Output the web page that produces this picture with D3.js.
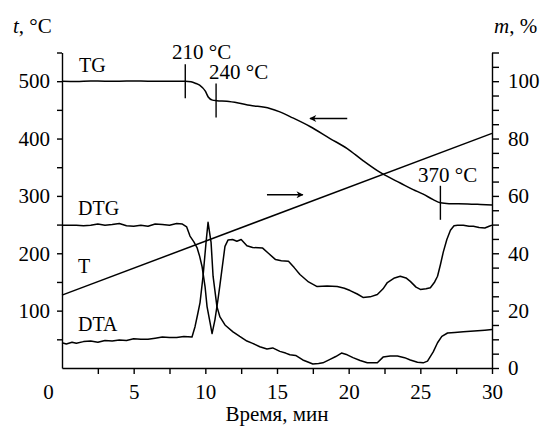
<!DOCTYPE html>
<html>
<head>
<meta charset="utf-8">
<script src="https://cdn.jsdelivr.net/npm/d3@7"></script>
<style>
body { margin: 0; background: #fff; }
.axis path, .axis line { stroke: #000; stroke-width: 1.4; }
.axis text { fill: #000; font-size: 21px; }
.curve { fill: none; stroke: #000; stroke-width: 1.5; stroke-linejoin: round; }
</style>
</head>
<body>
<svg width="547" height="426"></svg>
<script>
// TG, mass % (right axis)
var tgTime = [0, 1, 2, 3, 4, 5, 6, 7, 8, 8.6, 9.0, 9.3, 9.6, 10.0, 10.2, 10.5, 10.8, 11.5, 12.3, 13.1,
    14.5, 15.2, 16.1, 17.3, 18.7, 19.9, 21, 22, 22.5, 23.6, 24.5, 25.2, 25.9, 26.4, 27, 28.3, 29.2, 30];
var tgMass = [100, 99.9, 100.1, 100, 100, 100.1, 100, 100, 100, 100, 99.8, 99.3, 98.6, 96.5, 94.5, 93.4, 93.2, 93, 92.4, 91.6,
    90.5, 89.3, 87.2, 84.2, 80, 76.5, 72.3, 68.8, 67.3, 64.5, 62.2, 60.6, 58.7, 57.6, 57.3, 57.2, 57, 56.8];

// T, furnace temperature (left axis)
var tempTime = [0, 30];
var tempValue = [127, 409];

// DTG signal (drawn on left scale)
var dtgTime = [0, 0.5, 1, 1.5, 2, 2.5, 3, 3.5, 4, 4.5, 5, 5.5, 6, 6.5, 7, 7.5, 8, 8.4, 8.7, 8.93,
    9.2, 9.42, 9.6, 9.77, 9.98, 10.12, 10.33, 10.47, 10.67, 10.88, 11.02, 11.16, 11.37, 11.58, 11.9, 12.2, 12.5, 12.9, 13.3, 14.0,
    14.4, 14.9, 15.3, 15.8, 16.2, 16.6, 17.2, 17.8, 18.5, 19.2, 19.7, 20.1, 20.6, 21.0, 21.5, 22.0, 22.4, 22.7, 23.2, 23.6,
    24.0, 24.3, 24.7, 25.0, 25.4, 25.7, 26.0, 26.2, 26.4, 26.6, 26.85, 27.1, 27.35, 27.6, 28.0, 28.4, 28.7, 29.1, 29.5, 29.8, 30];
var dtgValue = [249, 249, 249, 248, 249, 251, 249, 250, 252, 248, 247, 249, 247, 251, 250, 249, 252, 251, 246, 230,
    220, 210, 195, 177, 142, 107, 79, 60, 84, 119, 145, 172, 212, 223, 224, 221, 224, 213, 210, 209,
    200, 189, 187, 186, 175, 163, 150, 142, 143, 142, 139, 135, 129, 123, 124, 128, 138, 149, 157, 160,
    157, 151, 141, 137, 138, 140, 150, 160, 180, 202, 224, 240, 248, 249, 249, 247, 247, 245, 244, 247, 249];

// DTA signal (drawn on left scale)
var dtaTime = [0, 0.3, 0.7, 1, 1.5, 2, 2.5, 3, 3.5, 4, 4.5, 5, 5.5, 6, 6.5, 7, 7.5, 8, 8.5, 9.07,
    9.28, 9.45, 9.63, 9.84, 10.05, 10.19, 10.4, 10.54, 10.81, 11.02, 11.37, 11.93, 12.4, 12.9, 13.3, 13.8, 14.3, 14.7, 15.2, 15.6,
    15.9, 16.3, 16.8, 17.2, 17.5, 17.9, 18.2, 18.7, 19.1, 19.5, 19.9, 20.3, 20.8, 21.3, 22.0, 22.4, 22.9, 23.4, 23.9, 24.3,
    24.8, 25.2, 25.5, 25.9, 26.2, 26.5, 26.9, 27.4, 28.0, 28.5, 29.0, 29.5, 30];
var dtaValue = [44, 42, 45, 43, 46, 47, 45, 48, 47, 49, 48, 51, 50, 50, 52, 54, 53, 53, 55, 54,
    72, 92, 114, 160, 219, 254, 219, 160, 107, 89, 75, 63, 55, 47, 43, 37, 33, 35, 29, 26,
    23, 22, 14, 10, 7, 8, 9, 15, 20, 26, 23, 18, 13, 9, 9, 19, 21, 21, 18, 14,
    10, 9, 12, 28, 44, 55, 61, 62, 63, 64, 65, 66, 67];

var xTickValues = d3.range(0, 30.01, 2.5);
var leftTickValues = d3.range(50, 551, 50);
var rightTickValues = d3.range(0, 111, 5);

// marked temperatures on TG
var markTime = [8.6, 10.75, 26.4];
var markLabel = ["210 °C", "240 °C", "370 °C"];

var serif = "'Liberation Serif', 'DejaVu Serif', 'Times New Roman', Times, serif";

var svg = d3.select("svg");

var x = d3.scaleLinear().domain([0, 30]).range([62, 492]);
var yT = d3.scaleLinear().domain([0, 550]).range([368, 52.5]);
var yM = d3.scaleLinear().domain([0, 110]).range([368, 52.5]);

function zip(a, b) { return a.map(function (d, i) { return [d, b[i]]; }); }

var lineT = d3.line().x(function (d) { return x(d[0]); }).y(function (d) { return yT(d[1]); });
var lineM = d3.line().x(function (d) { return x(d[0]); }).y(function (d) { return yM(d[1]); })
    .curve(d3.curveMonotoneX);

// axes
var gx = svg.append("g").attr("class", "axis")
    .attr("transform", "translate(0,368)")
    .call(d3.axisBottom(x).tickValues(xTickValues).tickSize(6).tickSizeOuter(0).tickPadding(10)
        .tickFormat(function (d) { return d % 5 === 0 ? d : ""; }));
gx.selectAll(".tick").filter(function (d) { return d === 0; }).select("text").attr("dx", -14);
gx.selectAll(".tick").filter(function (d) { return d === 0; }).select("line").remove();

svg.append("g").attr("class", "axis")
    .attr("transform", "translate(62,0)")
    .call(d3.axisLeft(yT).tickValues(leftTickValues).tickSize(5).tickSizeOuter(0).tickPadding(7)
        .tickFormat(function (d) { return d % 100 === 0 ? d : ""; }));

svg.append("g").attr("class", "axis")
    .attr("transform", "translate(492,0)")
    .call(d3.axisRight(yM).tickValues(rightTickValues).tickSize(7).tickSizeOuter(0).tickPadding(9)
        .tickFormat(function (d) { return d % 20 === 0 ? d : ""; }));

// axis titles
var tl = svg.append("text").attr("x", 13).attr("y", 33).attr("font-size", 21);
tl.append("tspan").attr("font-style", "italic").text("t");
tl.append("tspan").text(", °C");
var tr = svg.append("text").attr("x", 494).attr("y", 33).attr("font-size", 21);
tr.append("tspan").attr("font-style", "italic").text("m");
tr.append("tspan").text(", %");
svg.append("text").attr("x", 277).attr("y", 421).attr("text-anchor", "middle")
    .attr("font-size", 21).text("Время, мин");

// curves
svg.append("path").attr("class", "curve").attr("d", lineM(zip(tgTime, tgMass)));
svg.append("path").attr("class", "curve").attr("d", lineT(zip(tempTime, tempValue)));
svg.append("path").attr("class", "curve").attr("d", lineT(zip(dtgTime, dtgValue)));
svg.append("path").attr("class", "curve").attr("d", lineT(zip(dtaTime, dtaValue)));

// temperature marks on TG
var tgAt = d3.scaleLinear().domain(tgTime).range(tgMass);
markTime.forEach(function (t) {
    var cy = yM(tgAt(t));
    svg.append("line").attr("x1", x(t)).attr("x2", x(t))
        .attr("y1", cy - 17).attr("y2", cy + 17)
        .attr("stroke", "#000").attr("stroke-width", 1.4);
});
svg.append("text").attr("x", 172).attr("y", 59).attr("font-size", 21).text(markLabel[0]);
svg.append("text").attr("x", 209).attr("y", 79).attr("font-size", 21).text(markLabel[1]);
svg.append("text").attr("x", 418).attr("y", 182).attr("font-size", 21).text(markLabel[2]);

// curve names
svg.append("text").attr("x", 79).attr("y", 72).attr("font-size", 20).text("TG");
svg.append("text").attr("x", 78).attr("y", 215).attr("font-size", 20).text("DTG");
svg.append("text").attr("x", 78).attr("y", 273).attr("font-size", 20).text("T");
svg.append("text").attr("x", 78).attr("y", 331).attr("font-size", 20).text("DTA");

// arrows
svg.append("defs").append("marker").attr("id", "ah")
    .attr("viewBox", "0 0 10 10").attr("refX", 9).attr("refY", 5)
    .attr("markerWidth", 11).attr("markerHeight", 7).attr("markerUnits", "userSpaceOnUse")
    .attr("orient", "auto")
    .append("path").attr("d", "M0,0L10,5L0,10L3,5Z").attr("fill", "#000");
svg.append("line").attr("x1", x(19.9)).attr("x2", x(17.3))
    .attr("y1", yT(435)).attr("y2", yT(435))
    .attr("stroke", "#000").attr("stroke-width", 1.5).attr("marker-end", "url(#ah)");
svg.append("line").attr("x1", x(14.3)).attr("x2", x(16.8))
    .attr("y1", yT(302)).attr("y2", yT(302))
    .attr("stroke", "#000").attr("stroke-width", 1.5).attr("marker-end", "url(#ah)");

// serif face for every text, set straight on the elements
svg.selectAll("g.axis").attr("font-family", null);
svg.selectAll("text").attr("font-family", serif).style("font-family", serif);
</script>
</body>
</html>
